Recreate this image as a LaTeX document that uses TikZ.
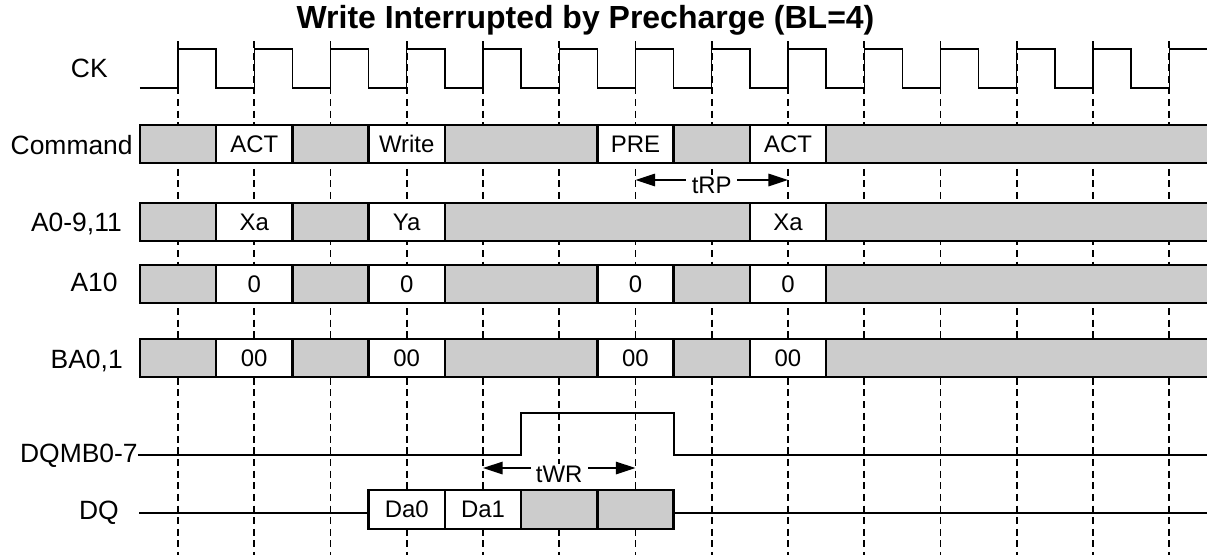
\documentclass[tikz,border=0pt]{standalone}
\usepackage{fontspec}
\setmainfont{Liberation Sans}
\usetikzlibrary{arrows.meta}
\definecolor{busgrey}{RGB}{204,204,204}
\tikzset{
    bus/.style={draw=black, line width=1.3pt, fill=busgrey},
    valid/.style={draw=black, line width=1.3pt, fill=white},
    sig/.style={black, line width=1.1pt},
    clkline/.style={black, line width=1.1pt, dash pattern=on 3.9pt off 2.6pt},
    lbl/.style={anchor=base east, inner sep=0pt, font=\fontsize{14.8}{17}\selectfont},
    val/.style={font=\fontsize{13.4}{16}\selectfont},
    timing/.style={line width=0.85pt, {Triangle[length=11pt,width=7pt]}-{Triangle[length=11pt,width=7pt]}},
    gap/.style={val, fill=white, anchor=base, text depth=0.12cm, inner xsep=3pt, inner ysep=1pt}
}
\begin{document}
\begin{tikzpicture}
        \useasboundingbox (-3.5016,0) rectangle (20.243,10.918);
        \node[anchor=base, font=\bfseries\fontsize{17.9}{21}\selectfont] (title) at (8.016,10.367) {Write Interrupted by Precharge (BL=4)};
        % clock edges
        \foreach \k in {0,...,13}
            \draw[clkline] (1.5*\k,10.111) -- (1.5*\k,0);
        \draw[line width=0.75pt] (-0.75,9.187) -- (0,9.187)
            \foreach \k in {0,...,13} { -- (1.5*\k,9.954) -- (1.5*\k+0.75,9.954) -- (1.5*\k+0.75,9.187) -- (1.5*\k+1.5,9.187) };
        % signal names
        \node[lbl] (ck) at (-1.377,9.384) {CK};
        \node[lbl] (cmd) at (-0.885,7.869) {Command};
        \node[lbl] (addr) at (-1.10,6.367) {A0-9,11};
        \node[lbl] (a10) at (-1.18,5.18) {A10};
        \node[lbl] (ba) at (-1.08,3.673) {BA0,1};
        \node[lbl] (dqm) at (-0.787,1.823) {DQMB0-7};
        \node[lbl] (dq) at (-1.16,0.702) {DQ};
        % command
        \filldraw[bus] (-0.75,7.711) rectangle (20.4,8.459);
        \filldraw[valid] (0.75,7.711) rectangle (2.25,8.459);
        \filldraw[valid] (3.75,7.711) rectangle (5.25,8.459);
        \filldraw[valid] (8.25,7.711) rectangle (9.75,8.459);
        \filldraw[valid] (11.25,7.711) rectangle (12.75,8.459);
        \node[val] (cmd1) at (1.5,8.085) {ACT};
        \node[val] (cmd2) at (4.5,8.085) {Write};
        \node[val] (cmd3) at (9,8.085) {PRE};
        \node[val] (cmd4) at (12,8.085) {ACT};
        % tRP
        \coordinate (rp1) at (9,7.377);
        \coordinate (rp2) at (12,7.377);
        \draw[timing] (rp1) -- (rp2) node[midway, gap, yshift=-0.256cm] (trp) {tRP};
        % address
        \filldraw[bus] (-0.75,6.177) rectangle (20.4,6.925);
        \filldraw[valid] (0.75,6.177) rectangle (2.25,6.925);
        \filldraw[valid] (3.75,6.177) rectangle (5.25,6.925);
        \filldraw[valid] (11.25,6.177) rectangle (12.75,6.925);
        \node[val] (addr1) at (1.5,6.551) {Xa};
        \node[val] (addr2) at (4.5,6.551) {Ya};
        \node[val] (addr3) at (12,6.551) {Xa};
        % A10
        \filldraw[bus] (-0.75,4.957) rectangle (20.4,5.705);
        \filldraw[valid] (0.75,4.957) rectangle (2.25,5.705);
        \filldraw[valid] (3.75,4.957) rectangle (5.25,5.705);
        \filldraw[valid] (8.25,4.957) rectangle (9.75,5.705);
        \filldraw[valid] (11.25,4.957) rectangle (12.75,5.705);
        \node[val] (ap1) at (1.5,5.331) {0};
        \node[val] (ap2) at (4.5,5.331) {0};
        \node[val] (ap3) at (9,5.331) {0};
        \node[val] (ap4) at (12,5.331) {0};
        % bank
        \filldraw[bus] (-0.75,3.502) rectangle (20.4,4.249);
        \filldraw[valid] (0.75,3.502) rectangle (2.25,4.249);
        \filldraw[valid] (3.75,3.502) rectangle (5.25,4.249);
        \filldraw[valid] (8.25,3.502) rectangle (9.75,4.249);
        \filldraw[valid] (11.25,3.502) rectangle (12.75,4.249);
        \node[val] (ba1) at (1.5,3.875) {00};
        \node[val] (ba2) at (4.5,3.875) {00};
        \node[val] (ba3) at (9,3.875) {00};
        \node[val] (ba4) at (12,3.875) {00};
        % DQM
        \coordinate (m0) at (-0.787,1.967);
        \coordinate (m1) at (20.4,1.967);
        \draw[sig] (m0) -- (6.75,1.967) -- (6.75,2.793) -- (9.75,2.793) -- (9.75,1.967) -- (m1);
        % tWR
        \coordinate (wr1) at (6,1.711);
        \coordinate (wr2) at (9,1.711);
        \draw[timing] (wr1) -- (wr2) node[midway, gap, yshift=-0.275cm] (twr) {tWR};
        % data
        \coordinate (d0) at (-0.767,0.826);
        \coordinate (d1) at (20.4,0.826);
        \draw[sig] (d0) -- (3.75,0.826);
        \draw[sig] (9.75,0.826) -- (d1);
        \filldraw[valid] (3.75,0.511) rectangle (5.25,1.279);
        \filldraw[valid] (5.25,0.511) rectangle (6.75,1.279);
        \filldraw[bus] (6.75,0.511) rectangle (8.25,1.279);
        \filldraw[bus] (8.25,0.511) rectangle (9.75,1.279);
        \node[val] (da0) at (4.5,0.895) {Da0};
        \node[val] (da1) at (6,0.895) {Da1};
    \end{tikzpicture}
\end{document}
